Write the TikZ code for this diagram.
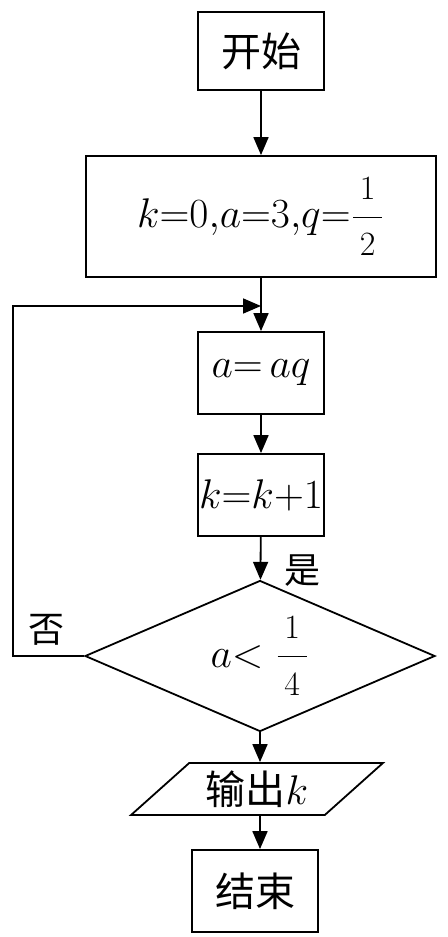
\documentclass[tikz,border=0pt]{standalone}
\usepackage{fontspec}
\newfontfamily\cjk{Noto Sans CJK SC}
\usetikzlibrary{
    arrows.meta,
    shapes.geometric
}
\newcommand{\myfrac}[2]{{\displaystyle\frac{\,\mbox{\fontsize{17}{17}\selectfont #1}\,}{\,\mbox{\fontsize{17}{17}\selectfont #2}\,}}}

\tikzset{
    proc/.style={draw, line width=0.9pt, inner sep=0pt, minimum width=63pt, minimum height=41pt,
        font=\fontsize{20}{24}\selectfont},
    cond/.style={draw, line width=0.9pt, diamond, aspect=2.3, inner sep=0pt,
        minimum width=175pt, minimum height=75.5pt, font=\fontsize{20}{24}\selectfont},
    io/.style={draw, line width=0.9pt, trapezium, trapezium left angle=40, trapezium right angle=140,
        trapezium stretches=true, inner sep=0pt, minimum width=126pt, minimum height=26pt,
        font=\fontsize{20}{24}\selectfont},
    tag/.style={inner sep=0pt, font=\fontsize{18}{20}\selectfont\cjk},
    flow/.style={line width=0.9pt, -{Triangle[length=9pt, width=7.5pt]}}
}

\begin{document}
\begin{tikzpicture}[x=0.5pt, y=-0.5pt]
    \useasboundingbox (0,0) rectangle (447,937);

    \node[proc, minimum height=39pt] (start) at (261, 51) {\cjk 开始};
    \node[proc, minimum width=175pt, minimum height=60.5pt] (init) at (261, 216.5)
        {$k{=}0{,}a{=}3{,}q{=}\myfrac{1}{2}$};
    \node[proc] (upda) at (261, 373) {$a{=}\,aq$};
    \node[proc] (updk) at (261, 495) {$k{=}k{+}1$};
    \node[cond] (test) at (260, 656) {$a{<}\;\myfrac{1}{4}$};
    \node[io] (outk) at (257, 789) {{\cjk 输出}$k$};
    \node[proc] (stop) at (255, 891) {\cjk 结束};

    \node[tag] (yes) at (302, 571) {是};
    \node[tag] (no) at (46, 630) {否};

    \coordinate (merge) at (261, 306);
    \coordinate (back) at (13, 306);

    \draw[flow] (start) -- (init);
    \draw[flow] (init) -- (upda);
    \draw[flow] (upda) -- (updk);
    \draw[flow] (updk) -- (test);
    \draw[flow] (test) -- (test |- outk.north);
    \draw[flow] (test |- outk.south) -- (test |- stop.north);
    \draw[flow] (test.west) -| (back) -- (merge);
\end{tikzpicture}
\end{document}
